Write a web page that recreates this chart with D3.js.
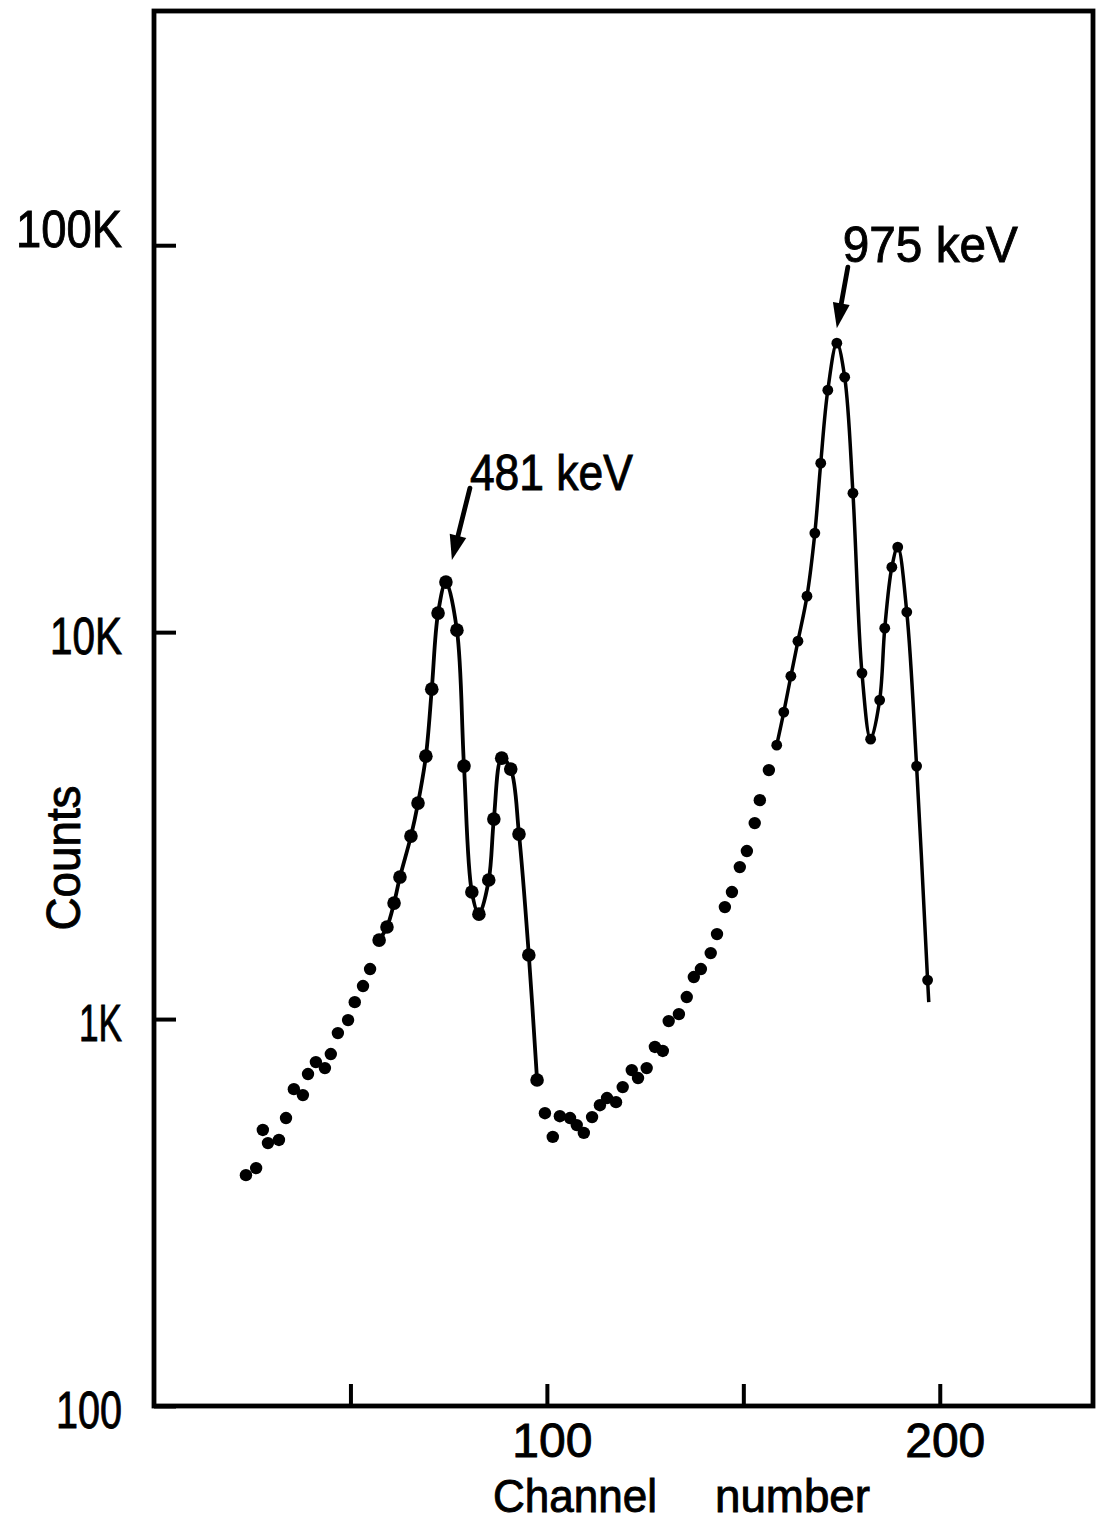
<!DOCTYPE html>
<html>
<head>
<meta charset="utf-8">
<script src="https://cdn.jsdelivr.net/npm/d3@7"></script>
<style>
  html, body { margin: 0; padding: 0; background: #fff; }
  svg { display: block; }
  text { font-family: "Liberation Sans", Arial, sans-serif; fill: #000; stroke: #000; stroke-width: 0.9; }
</style>
</head>
<body>
<div id="chart"></div>
<script>
// channel / counts, low tail (dots only)
var tail1Channel = [23.4, 26.0, 27.7, 29.0, 31.8, 33.6, 35.6, 37.9, 39.2, 41.2, 43.5, 45.0, 46.8, 49.4, 51.1, 53.2, 55.0];
var tail1Counts  = [395, 412, 517, 478, 487, 555, 659, 636, 721, 774, 747, 812, 920, 994, 1106, 1217, 1347];

// 481 keV peak (dots joined by the fitted curve)
var peak1Channel = [57.3, 59.3, 61.1, 62.6, 65.4, 67.2, 69.2, 70.7, 72.3, 74.3, 77.1, 78.9, 80.9, 82.7, 85.2, 86.5, 88.5, 90.8, 92.9, 95.4, 97.5];
var peak1Counts  = [1600, 1729, 1994, 2328, 2971, 3615, 4781, 7124, 11200, 13470, 10120, 4506, 2130, 1867, 2287, 3287, 4724, 4426, 3006, 1464, 696];

// valley between the two peaks (dots only)
var tail2Channel = [99.5, 101.5, 103.3, 105.9, 107.6, 109.4, 111.5, 113.5, 115.3, 117.6, 119.3, 121.6, 123.2, 125.4, 127.5, 129.5, 131.0, 133.6, 135.6, 137.4, 139.2, 141.7, 143.3, 145.3, 147.1, 149.1, 150.9, 152.9, 154.2, 156.5];
var tail2Counts  = [571, 496, 561, 555, 532, 508, 558, 599, 625, 610, 667, 738, 704, 747, 847, 827, 988, 1030, 1140, 1284, 1347, 1481, 1658, 1947, 2130, 2470, 2718, 3210, 3680, 4400];

// 975 keV peak
var peak2Channel = [158.5, 160.3, 162.1, 163.9, 166.2, 168.2, 169.7, 171.5, 173.8, 175.8, 177.9, 180.2, 182.4, 184.7, 186.0, 187.8, 189.3, 191.6, 194.1, 196.9];
var peak2Counts  = [5105, 6215, 7696, 9478, 12390, 18030, 27340, 42210, 55820, 45600, 22870, 7836, 5290, 6674, 10240, 14720, 16590, 11270, 4506, 1261];
// the drawn curve runs on a little past the last dot
var peak2CurveEnd = [197.2, 1106];

var peakLabels = ["481 keV", "975 keV"];

var yTicks = [100, 1000, 10000, 100000];
var yTickLabels = ["100", "1K", "10K", "100K"];
var xTicks = [50, 100, 150, 200];
var xTickLabels = ["", "100", "", "200"];

var width = 1097, height = 1524;

var svg = d3.select("#chart").append("svg")
    .attr("width", width).attr("height", height);

var x = d3.scaleLinear().domain([0, 239]).range([154, 1093]);
var y = d3.scaleLog().domain([100, 403000]).range([1406, 11]);

function zip(ch, c) { return ch.map(function(v, i){ return {ch: v, c: c[i]}; }); }

var tail1 = zip(tail1Channel, tail1Counts);
var peak1 = zip(peak1Channel, peak1Counts);
var tail2 = zip(tail2Channel, tail2Counts);
var peak2 = zip(peak2Channel, peak2Counts);

// frame
svg.append("rect")
    .attr("x", x.range()[0]).attr("y", y.range()[1])
    .attr("width", x.range()[1] - x.range()[0])
    .attr("height", y.range()[0] - y.range()[1])
    .attr("fill", "none").attr("stroke", "#000").attr("stroke-width", 4.8);

// y axis, ticks point inward
var yLabelWidth = {100: 66, 1000: 43, 10000: 72, 100000: 106};
var yAxis = d3.axisLeft(y)
    .tickValues(yTicks)
    .tickFormat(function(d, i){ return yTickLabels[i]; })
    .tickSize(-22).tickPadding(32);
var gy = svg.append("g").attr("transform", "translate(" + x.range()[0] + ",0)").call(yAxis);
gy.select(".domain").remove();
gy.selectAll(".tick line").attr("stroke", "#000").attr("stroke-width", 4);
gy.selectAll(".tick text").attr("font-size", 51).attr("fill", "#000")
    .attr("font-family", "Liberation Sans, Arial, sans-serif")
    .attr("textLength", function(d){ return yLabelWidth[d]; })
    .attr("lengthAdjust", "spacingAndGlyphs")
    .attr("dy", function(d){ return d === 100000 ? "0.02em" : "0.42em"; });

// x axis
var xAxis = d3.axisBottom(x)
    .tickValues(xTicks)
    .tickFormat(function(d, i){ return xTickLabels[i]; })
    .tickSize(-22).tickPadding(17);
var gx = svg.append("g").attr("transform", "translate(0," + y.range()[0] + ")").call(xAxis);
gx.select(".domain").remove();
gx.selectAll(".tick line").attr("stroke", "#000").attr("stroke-width", 4);
gx.selectAll(".tick text").attr("font-size", 48).attr("fill", "#000")
    .attr("font-family", "Liberation Sans, Arial, sans-serif")
    .attr("dx", 5);

// axis titles
svg.append("text")
    .attr("transform", "translate(80,858) rotate(-90)")
    .attr("text-anchor", "middle")
    .attr("font-size", 48)
    .attr("textLength", 145).attr("lengthAdjust", "spacingAndGlyphs")
    .text("Counts");

svg.append("text").attr("x", 493).attr("y", 1512)
    .attr("font-size", 46)
    .attr("textLength", 164).attr("lengthAdjust", "spacingAndGlyphs")
    .text("Channel");
svg.append("text").attr("x", 715).attr("y", 1512)
    .attr("font-size", 46)
    .attr("textLength", 155).attr("lengthAdjust", "spacingAndGlyphs")
    .text("number");

// fitted curves
var line = d3.line()
    .x(function(d){ return x(d.ch); })
    .y(function(d){ return y(d.c); })
    .curve(d3.curveCatmullRom.alpha(0.5));

svg.append("path").datum(peak1)
    .attr("d", line).attr("fill", "none").attr("stroke", "#000").attr("stroke-width", 3.8);
svg.append("path").datum(peak2.concat([{ch: peak2CurveEnd[0], c: peak2CurveEnd[1]}]))
    .attr("d", line).attr("fill", "none").attr("stroke", "#000").attr("stroke-width", 3.5);

// data points
function dots(data, r) {
  svg.append("g").selectAll("circle")
    .data(data).join("circle")
      .attr("cx", function(d){ return x(d.ch); })
      .attr("cy", function(d){ return y(d.c); })
      .attr("r", r)
      .attr("fill", "#000");
}
dots(tail1, 6.2);
dots(peak1, 6.8);
dots(tail2, 6.2);
dots(peak2, 5.4);

// peak labels with arrows
var peaks = [peak1, peak2];
// offsets from the peak dot: arrow tip, arrow tail, text position
var arrowOffsets = [
  {tip: [6, -22], tail: [24, -94], text: [24, -92], len: 163},
  {tip: [0, -15], tail: [11, -76], text: [6, -81], len: 175}
];

peaks.forEach(function(p, i){
  var top = p.reduce(function(a, b){ return b.c > a.c ? b : a; });
  var px = x(top.ch), py = y(top.c);
  var o = arrowOffsets[i];
  var tx = px + o.tip[0], ty = py + o.tip[1];
  var sx = px + o.tail[0], sy = py + o.tail[1];
  var dx = tx - sx, dy = ty - sy, L = Math.sqrt(dx*dx + dy*dy);
  var ux = dx / L, uy = dy / L;
  var headLen = 25, headW = 8.5;
  var bx = tx - ux * headLen, by = ty - uy * headLen;

  svg.append("line")
    .attr("x1", sx).attr("y1", sy)
    .attr("x2", bx + ux * 3).attr("y2", by + uy * 3)
    .attr("stroke", "#000").attr("stroke-width", 4.8)
    .attr("stroke-linecap", "round");
  svg.append("path")
    .attr("d", "M" + tx + "," + ty +
               "L" + (bx - uy * headW) + "," + (by + ux * headW) +
               "L" + (bx + uy * headW) + "," + (by - ux * headW) + "Z")
    .attr("fill", "#000");

  svg.append("text")
    .attr("x", px + o.text[0]).attr("y", py + o.text[1])
    .attr("font-size", 50)
    .attr("textLength", o.len).attr("lengthAdjust", "spacingAndGlyphs")
    .text(peakLabels[i]);
});
</script>
</body>
</html>
